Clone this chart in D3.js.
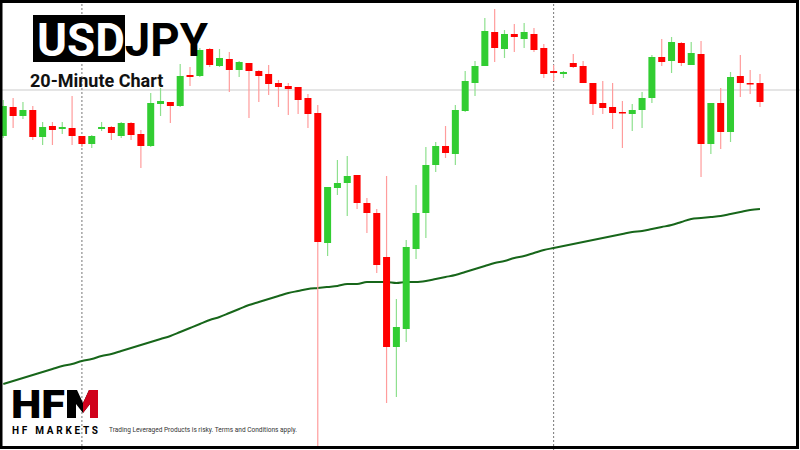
<!DOCTYPE html>
<html>
<head>
<meta charset="utf-8">
<script src="https://cdn.jsdelivr.net/npm/d3@7"></script>
<style>
  body { margin: 0; background: #fff; }
  svg { display: block; font-family: Roboto, 'Noto Sans', sans-serif; }
</style>
</head>
<body>
<svg id="chart" width="800" height="450"></svg>
<script>
// USDJPY 20 minute candles
const open = [149.14,149.43,149.34,149.40,149.13,149.24,149.21,149.22,149.14,149.06,
  149.21,149.23,149.14,149.27,149.16,149.04,149.46,149.48,149.44,149.75,
  149.74,150.01,149.84,149.91,149.80,149.87,149.79,149.76,149.67,149.64,
  149.63,149.52,149.37,148.07,148.62,148.67,148.75,148.47,148.37,147.93,
  147.03,147.21,148.01,148.37,148.85,149.04,148.96,149.39,149.67,149.84,
  150.18,150.01,150.16,150.11,150.16,150.02,149.79,149.76,149.87,149.84,
  149.67,149.47,149.43,149.38,149.36,149.40,149.52,149.93,149.89,150.07,
  149.85,149.96,149.06,149.47,149.18,149.74,149.67,149.67]
const high = [149.50,149.52,149.48,149.44,149.28,149.28,149.28,149.54,149.14,149.15,
  149.28,149.24,149.28,149.28,149.20,149.57,149.62,149.48,149.86,149.83,
  150.02,150.02,150.01,149.98,149.89,149.87,149.80,149.85,149.70,149.67,
  149.63,149.56,149.45,148.63,148.90,148.94,148.75,148.52,148.41,148.74,
  147.51,148.10,148.65,149.03,149.08,149.24,149.45,149.79,149.89,150.32,
  150.41,150.20,150.26,150.27,150.22,150.06,149.85,149.79,149.96,149.89,
  149.67,149.69,149.67,149.49,149.46,149.58,149.95,150.11,150.13,150.08,
  150.08,150.09,149.47,149.62,149.78,149.95,149.80,149.76]
const low = [149.12,149.22,149.31,149.10,149.05,149.05,149.16,149.05,149.03,149.02,
  149.19,149.10,149.12,149.10,148.82,149.03,149.34,149.27,149.43,149.64,
  149.73,149.83,149.83,149.58,149.73,149.32,149.48,149.55,149.43,149.35,
  149.36,149.22,146.04,147.94,148.55,148.34,148.41,148.17,147.77,146.47,
  146.53,147.08,147.91,148.12,148.78,148.92,148.85,149.38,149.54,149.84,
  149.88,149.92,149.98,150.02,149.98,149.72,149.69,149.72,149.82,149.67,
  149.35,149.36,149.21,149.02,149.19,149.22,149.47,149.84,149.77,149.84,
  149.85,148.73,148.96,149.01,149.08,149.53,149.56,149.43]
const close = [149.44,149.34,149.40,149.13,149.23,149.20,149.23,149.14,149.06,149.14,
  149.23,149.17,149.27,149.15,149.04,149.47,149.49,149.44,149.74,149.73,
  150.00,149.85,149.92,149.80,149.88,149.79,149.74,149.66,149.63,149.61,
  149.50,149.36,148.08,148.63,148.67,148.74,148.47,148.37,147.85,147.03,
  147.23,148.03,148.37,148.85,149.04,148.97,149.40,149.69,149.84,150.19,
  150.02,150.16,150.13,150.18,150.00,149.76,149.77,149.78,149.83,149.67,
  149.46,149.42,149.37,149.37,149.40,149.52,149.93,149.88,150.08,149.87,
  149.97,149.06,149.47,149.18,149.73,149.67,149.66,149.48]
// moving average
const ma = [146.66,146.69,146.72,146.75,146.78,146.81,146.84,146.86,146.89,146.91,
  146.94,146.96,146.99,147.02,147.05,147.08,147.11,147.14,147.18,147.22,
  147.26,147.30,147.33,147.37,147.41,147.45,147.48,147.51,147.54,147.57,
  147.59,147.61,147.62,147.63,147.64,147.66,147.66,147.68,147.68,147.68,
  147.67,147.68,147.68,147.69,147.71,147.73,147.75,147.78,147.81,147.84,
  147.87,147.89,147.92,147.94,147.97,148.00,148.02,148.04,148.06,148.08,
  148.10,148.12,148.14,148.16,148.18,148.19,148.21,148.23,148.25,148.28,
  148.31,148.32,148.33,148.34,148.36,148.38,148.40,148.41]
const refPrice = 149.60
const sessionBreaks = [8, 56]

const W = 800, H = 450
const svg = d3.select('#chart')

const x = d3.scaleLinear().domain([0, open.length - 1]).range([3.3, 760])
const y = d3.scaleLinear().domain([146, 150.5]).range([450, 0])

const candles = open.map((o, i) => ({ i, o, h: high[i], l: low[i], c: close[i] }))

// reference line
svg.append('line')
  .attr('x1', 0).attr('x2', W)
  .attr('y1', y(refPrice)).attr('y2', y(refPrice))
  .style('stroke', '#dcdcdc').style('stroke-width', 1.5)

// session separators
svg.selectAll('line.sep').data(sessionBreaks).enter()
  .append('line').classed('sep', true)
  .attr('x1', d => x(d)).attr('x2', d => x(d))
  .attr('y1', 0).attr('y2', H)
  .style('stroke', '#777').style('stroke-dasharray', '2,2')

// moving average
svg.append('path')
  .datum(ma)
  .attr('d', d3.line().x((d, i) => x(i)).y(d => y(d)).curve(d3.curveMonotoneX))
  .style('fill', 'none').style('stroke', '#17661a').style('stroke-width', 2)

const g = svg.selectAll('g.candle').data(candles).enter()
  .append('g').classed('candle', true)

g.append('line')
  .attr('x1', d => x(d.i)).attr('x2', d => x(d.i))
  .attr('y1', d => y(d.h)).attr('y2', d => y(d.l))
  .style('stroke', d => d.c >= d.o ? '#8ee08e' : '#ff9c9c')
  .style('stroke-width', 1.2)

g.append('rect')
  .attr('x', d => x(d.i) - 3.5)
  .attr('width', 7)
  .attr('y', d => y(Math.max(d.o, d.c)))
  .attr('height', d => Math.max(1.5, Math.abs(y(d.o) - y(d.c))))
  .style('fill', d => d.c >= d.o ? '#32cd32' : '#ff0000')

// title
svg.append('rect').attr('x', 33).attr('y', 15).attr('width', 92).attr('height', 47).style('fill', '#000')
const title = svg.append('text').attr('x', 37).attr('y', 56)
  .attr('textLength', 171).attr('lengthAdjust', 'spacingAndGlyphs')
  .style('font-size', '46px').style('font-weight', 700)
title.append('tspan').text('USD').style('fill', '#fff')
title.append('tspan').text('JPY').style('fill', '#000')
svg.append('text').attr('x', 30).attr('y', 87).text('20-Minute Chart')
  .style('font-size', '18px').style('font-weight', 700).style('fill', '#111')

// logo
svg.append('text').attr('x', 11).attr('y', 418).text('HF')
  .attr('textLength', 54).attr('lengthAdjust', 'spacingAndGlyphs')
  .style('font-size', '38px').style('font-weight', 900).style('fill', '#000')
svg.append('path')
  .attr('d', 'M67,390 L77,390 L83,403 L89,390 L98,390 L98,418 L90,418 L90,404 L83,413 L76,404 L76,418 L67,418 Z')
  .style('fill', '#000')
svg.append('path')
  .attr('d', 'M83,403 L89,390 L98,390 L98,418 L90,418 L90,404 L83,413 Z')
  .style('fill', '#d0021b')
svg.append('text').attr('x', 12).attr('y', 434).text('HF MARKETS')
  .attr('textLength', 86).attr('lengthAdjust', 'spacing')
  .style('font-size', '10px').style('font-weight', 700).style('fill', '#000')
svg.append('text').attr('x', 109).attr('y', 432).text('Trading Leveraged Products is risky. Terms and Conditions apply.')
  .attr('textLength', 188).attr('lengthAdjust', 'spacingAndGlyphs')
  .style('font-size', '7.5px').style('fill', '#333')

// frame
svg.append('rect').attr('x', 1).attr('y', 1.5).attr('width', W - 3.5).attr('height', H - 4)
  .style('fill', 'none').style('stroke', '#000').style('stroke-width', 3)
</script>
</body>
</html>
